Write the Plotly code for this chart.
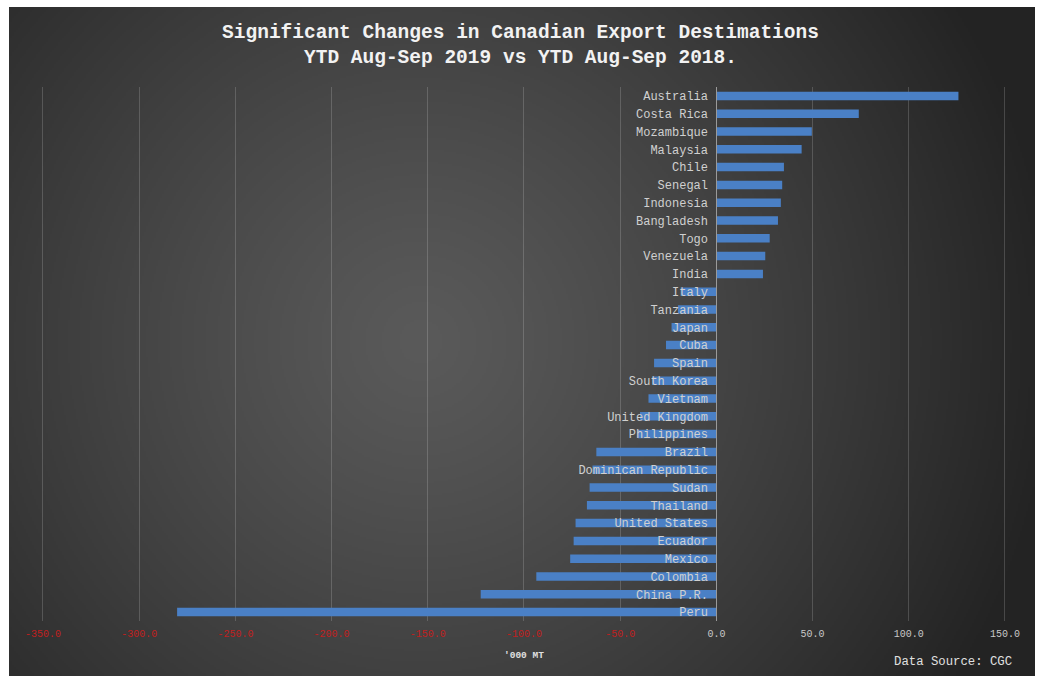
import base64
import struct
import zlib

import numpy as np
import plotly.graph_objects as go

# Change in export volume ('000 MT), YTD Aug-Sep 2019 vs YTD Aug-Sep 2018
countries = [
    "Australia", "Costa Rica", "Mozambique", "Malaysia", "Chile", "Senegal",
    "Indonesia", "Bangladesh", "Togo", "Venezuela", "India", "Italy",
    "Tanzania", "Japan", "Cuba", "Spain", "South Korea", "Vietnam",
    "United Kingdom", "Philippines", "Brazil", "Dominican Republic", "Sudan",
    "Thailand", "United States", "Ecuador", "Mexico", "Colombia",
    "China P.R.", "Peru",
]
changes = [
    125.8, 74.0, 49.6, 44.3, 35.1, 34.2,
    33.5, 32.0, 27.7, 25.4, 24.2, -18.6,
    -20.0, -23.3, -26.2, -32.4, -33.5, -35.3,
    -39.7, -40.8, -62.4, -64.4, -65.9,
    -67.3, -73.2, -74.2, -76.0, -93.6,
    -122.5, -280.3,
]
x_ticks = [-350, -300, -250, -200, -150, -100, -50, 0, 50, 100, 150]

W, H = 1041, 677
FONT = "Liberation Mono, Courier New, monospace"


def png_data_uri(rgb):
    """Encode an (h, w, 3) uint8 array as a PNG data URI."""
    h, w, _ = rgb.shape
    raw = b"".join(b"\x00" + rgb[r].tobytes() for r in range(h))

    def chunk(tag, data):
        c = struct.pack(">I", len(data)) + tag + data
        return c + struct.pack(">I", zlib.crc32(tag + data) & 0xFFFFFFFF)

    png = b"\x89PNG\r\n\x1a\n"
    png += chunk(b"IHDR", struct.pack(">IIBBBBB", w, h, 8, 2, 0, 0, 0))
    png += chunk(b"IDAT", zlib.compress(raw, 9))
    png += chunk(b"IEND", b"")
    return "data:image/png;base64," + base64.b64encode(png).decode()


# Dark radial-gradient backdrop
bx0, by0, bx1, by1 = 9, 7, 1035, 676
gw, gh = (bx1 - bx0) // 2, (by1 - by0) // 2
yy, xx = np.mgrid[0:gh, 0:gw]
px = bx0 + xx * 2.0
py = by0 + yy * 2.0
d = np.sqrt((px - 420) ** 2 + (py - 340) ** 2)
v = 90 - 55 * np.clip(d / 640, 0, 1) ** 1.2
img = np.repeat(v[:, :, None], 3, axis=2).astype(np.uint8)
bg_uri = png_data_uri(img)

# Plot area geometry (pixels); the value range is padded by a hair so the
# outermost gridlines (-350 and 150) are still drawn inside the plot area.
x_min, x_max = -350, 150
pad = 1.0
px_per_unit = (1005 - 43) / (x_max - x_min)
plot_l = 43 - pad * px_per_unit
plot_r = 1005 + pad * px_per_unit
plot_t, plot_b = 87, 621
zero_px = 43 + (0 - x_min) * px_per_unit

tick_text = [
    f'<span style="color:{"#c0201e" if t < 0 else "#c8c8c8"}">{t:.1f}</span>'
    for t in x_ticks
]

fig = go.Figure(
    go.Bar(
        x=changes,
        y=countries,
        orientation="h",
        marker=dict(color="#4a80c6", line=dict(width=0)),
        hovertemplate="%{y}: %{x:.1f}<extra></extra>",
    )
)

fig.update_layout(
    width=W,
    height=H,
    margin=dict(l=0, r=0, t=0, b=0, autoexpand=False),
    paper_bgcolor="white",
    plot_bgcolor="rgba(0,0,0,0)",
    bargap=0.52,
    showlegend=False,
    title=dict(
        text="Significant Changes in Canadian Export Destimations<br>"
             "YTD Aug-Sep 2019 vs YTD Aug-Sep 2018.",
        x=0.5,
        xanchor="center",
        y=1 - 38 / H,
        yanchor="top",
        font=dict(family=FONT, size=19.5, color="#f2f2f2", weight="bold"),
    ),
    xaxis=dict(
        domain=[plot_l / W, plot_r / W],
        range=[x_min - pad, x_max + pad],
        tickvals=x_ticks,
        ticktext=tick_text,
        tickfont=dict(family=FONT, size=10),
        ticklabelstandoff=5,
        showgrid=True,
        gridcolor="rgba(255,255,255,0.17)",
        gridwidth=1,
        zeroline=False,
        showline=False,
        ticks="",
        automargin=False,
        fixedrange=True,
    ),
    yaxis=dict(
        domain=[1 - plot_b / H, 1 - plot_t / H],
        autorange="reversed",
        anchor="free",
        position=zero_px / W,
        showline=True,
        linecolor="#9a9a9a",
        linewidth=1,
        showgrid=False,
        zeroline=False,
        ticks="",
        ticklabelstandoff=6,
        tickfont=dict(family=FONT, size=12, color="#d0d0d0"),
        automargin=False,
        fixedrange=True,
    ),
    images=[
        dict(
            source=bg_uri,
            xref="paper",
            yref="paper",
            x=bx0 / W,
            y=1 - by0 / H,
            sizex=(bx1 - bx0) / W,
            sizey=(by1 - by0) / H,
            xanchor="left",
            yanchor="top",
            sizing="stretch",
            layer="below",
        )
    ],
    annotations=[
        dict(
            text="'000 MT",
            xref="paper",
            yref="paper",
            x=524 / W,
            y=1 - 655 / H,
            xanchor="center",
            yanchor="middle",
            showarrow=False,
            font=dict(family=FONT, size=9.5, color="#e0e0e0", weight="bold"),
        ),
        dict(
            text="Data Source: CGC",
            xref="paper",
            yref="paper",
            x=1014 / W,
            y=1 - 662 / H,
            xanchor="right",
            yanchor="middle",
            showarrow=False,
            font=dict(family=FONT, size=12.3, color="#e0e0e0"),
        ),
    ],
)

fig.write_html("out.html")
